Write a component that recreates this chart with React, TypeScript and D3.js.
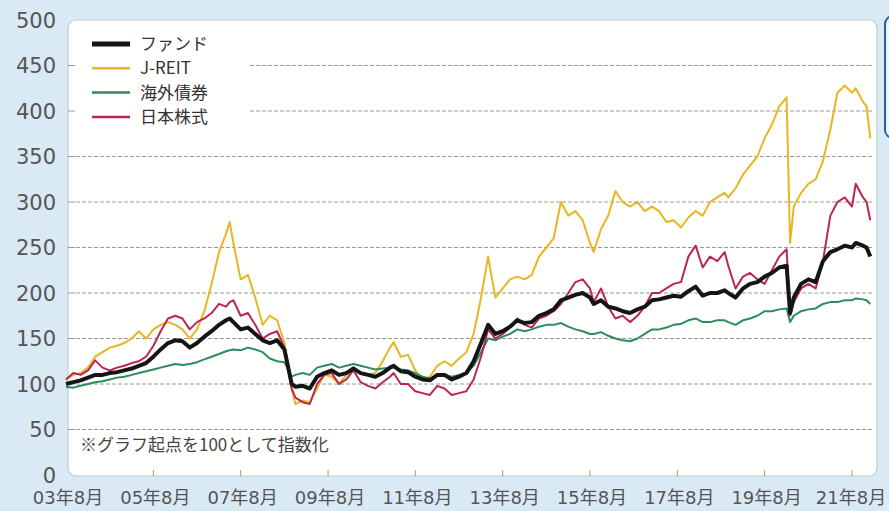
import { useRef, useEffect } from 'react'
import * as d3 from 'd3'

// dates (YYYY-MM) of the sampled points
const dates = [
  '2003-08', '2003-10', '2003-12', '2004-02', '2004-04', '2004-06', '2004-08', '2004-10', '2004-12',
  '2005-02', '2005-04', '2005-06', '2005-08', '2005-10', '2005-12', '2006-02', '2006-04', '2006-06',
  '2006-08', '2006-10', '2006-12', '2007-02', '2007-04', '2007-05', '2007-06', '2007-08', '2007-10',
  '2007-12', '2008-02', '2008-04', '2008-06', '2008-08', '2008-10', '2008-11', '2009-01', '2009-03',
  '2009-05', '2009-07', '2009-09', '2009-11', '2010-01', '2010-03', '2010-05', '2010-07', '2010-09',
  '2010-11', '2011-01', '2011-02', '2011-04', '2011-06', '2011-08', '2011-10', '2011-12', '2012-02',
  '2012-04', '2012-06', '2012-08', '2012-10', '2012-12', '2013-02', '2013-04', '2013-06', '2013-08',
  '2013-10', '2013-12', '2014-02', '2014-04', '2014-06', '2014-08', '2014-10', '2014-12', '2015-02',
  '2015-04', '2015-06', '2015-08', '2015-09', '2015-11', '2016-01', '2016-03', '2016-05', '2016-07',
  '2016-09', '2016-11', '2017-01', '2017-03', '2017-05', '2017-07', '2017-09', '2017-11', '2018-01',
  '2018-03', '2018-05', '2018-07', '2018-09', '2018-10', '2018-12', '2019-02', '2019-04', '2019-06',
  '2019-08', '2019-10', '2019-12', '2020-02', '2020-03', '2020-04', '2020-06', '2020-08', '2020-10',
  '2020-12', '2021-02', '2021-04', '2021-06', '2021-08', '2021-09', '2021-11', '2021-12', '2022-01',
]

const fund = [
  100, 102, 104, 107, 110, 110, 112, 113, 115,
  117, 120, 123, 130, 138, 145, 148, 147, 140,
  145, 152, 158, 165, 170, 172, 168, 160, 162,
  155, 148, 145, 148, 138, 100, 97, 98, 95,
  108, 112, 115, 110, 112, 117, 112, 110, 108,
  112, 118, 120, 114, 113, 108, 105, 104, 110,
  110, 105, 108, 112, 125, 145, 165, 155, 158,
  163, 170, 167, 168, 175, 178, 182, 192, 195,
  198, 200, 195, 188, 192, 185, 183, 180, 178,
  182, 185, 192, 193, 195, 197, 196, 202, 207,
  197, 200, 200, 203, 200, 195, 205, 210, 212,
  218, 222, 228, 230, 178, 195, 210, 215, 212,
  235, 245, 248, 252, 250, 255, 252, 250, 240,
]

const jreit = [
  105, 110, 112, 118, 130, 135, 140, 142, 145,
  150, 158, 150, 160, 165, 168, 165, 160, 150,
  160, 180, 210, 245, 265, 278, 255, 215, 220,
  195, 165, 175, 170, 145, 95, 78, 82, 80,
  95, 110, 108, 100, 110, 118, 112, 110, 112,
  125, 140, 146, 130, 132, 115, 105, 108, 120,
  125, 120, 128, 135, 155, 195, 240, 195, 205,
  215, 218, 215, 220, 240, 250, 260, 300, 285,
  290, 280, 255, 245, 270, 285, 312, 300, 295,
  300, 290, 295, 290, 278, 280, 272, 283, 290,
  285, 300, 305, 310, 305, 315, 330, 340, 350,
  370, 385, 405, 415, 255, 295, 310, 320, 325,
  345, 380, 420, 428, 420, 425, 410, 405, 370,
]

const bond = [
  97, 96, 98, 100, 102, 103, 105, 107, 108,
  110, 112, 114, 116, 118, 120, 122, 121, 122,
  124, 127, 130, 133, 136, 137, 138, 137, 140,
  138, 135, 128, 125, 124, 108, 110, 112, 110,
  118, 120, 122, 118, 120, 122, 120, 118, 116,
  117, 118, 118, 116, 115, 112, 108, 106, 110,
  110, 108, 110, 112, 120, 135, 150, 148, 152,
  155, 160, 158, 160, 163, 165, 165, 167, 163,
  160, 158, 155, 155, 157, 153, 150, 148, 147,
  150, 155, 160, 160, 162, 165, 166, 170, 172,
  168, 168, 170, 170, 168, 165, 170, 172, 175,
  180, 180, 182, 183, 168, 175, 180, 182, 183,
  188, 190, 190, 192, 192, 194, 193, 192, 188,
]

const stock = [
  105, 112, 110, 115, 126, 118, 115, 118, 120,
  123, 125, 130, 142, 158, 172, 175, 172, 160,
  168, 172, 178, 188, 185, 190, 192, 175, 178,
  165, 150, 155, 158, 140, 95, 85, 80, 78,
  100, 110, 112, 100, 105, 115, 102, 98, 95,
  102, 108, 112, 100, 100, 92, 90, 88, 98,
  95, 88, 90, 92, 105, 130, 160, 150, 155,
  162, 172, 165, 162, 172, 175, 180, 188, 200,
  212, 215, 205, 190, 205, 185, 172, 175, 168,
  175, 185, 200, 200, 205, 210, 212, 240, 252,
  228, 240, 235, 245, 230, 205, 218, 222, 215,
  210, 225, 240, 248, 175, 190, 205, 210, 205,
  235, 285, 300, 305, 295, 320, 305, 300, 280,
]

const seriesNames = ['ファンド', 'J-REIT', '海外債券', '日本株式']
const yTicks = [0, 50, 100, 150, 200, 250, 300, 350, 400, 450, 500]
const xTickLabels = ['03年8月', '05年8月', '07年8月', '09年8月', '11年8月', '13年8月', '15年8月', '17年8月', '19年8月', '21年8月']
const note = '※グラフ起点を100として指数化'

const W = 889
const H = 511

export default function App() {
  const svgRef = useRef<SVGSVGElement>(null)

  useEffect(() => {
    document.body.style.margin = '0'
    if (!svgRef.current) return
    const svg = d3.select(svgRef.current)
    svg.selectAll('*').remove()

    const parse = d3.timeParse('%Y-%m')
    const t = dates.map(d => parse(d) as Date)

    const x = d3.scaleTime()
      .domain([new Date(2003, 7, 1), new Date(2021, 7, 1)])
      .range([66, 852])
    const y = d3.scaleLinear().domain([0, 500]).range([475, 20])

    const panel = { left: 68, right: 877, top: 20, bottom: 476 }

    // background
    svg.append('rect').attr('width', W).attr('height', H).attr('fill', '#d9eaf5')

    // partial box at the right edge
    svg.append('rect')
      .attr('x', 885).attr('y', 16).attr('width', 30).attr('height', 122).attr('rx', 8)
      .attr('fill', '#eaf5fb').attr('stroke', '#2c5f8a').attr('stroke-width', 2)

    // white panel
    svg.append('rect')
      .attr('x', panel.left).attr('y', panel.top)
      .attr('width', panel.right - panel.left).attr('height', panel.bottom - panel.top)
      .attr('rx', 8)
      .attr('fill', '#fffffd')
      .attr('stroke', '#b7cddd').attr('stroke-width', 1.2)

    // grid lines (legend blocks the upper-left part)
    const gridVals = yTicks.filter(v => v > 0 && v < 500)
    svg.append('g').selectAll('line')
      .data(gridVals)
      .enter()
      .append('line')
      .attr('x1', d => (d >= 400 ? 250 : 76))
      .attr('x2', panel.right - 4)
      .attr('y1', d => y(d))
      .attr('y2', d => y(d))
      .attr('stroke', '#9a9a9a')
      .attr('stroke-width', 1)
      .attr('stroke-dasharray', '4,2')

    // left tick marks
    svg.append('g').selectAll('line')
      .data(gridVals)
      .enter()
      .append('line')
      .attr('x1', panel.left)
      .attr('x2', panel.left + 7)
      .attr('y1', d => y(d))
      .attr('y2', d => y(d))
      .attr('stroke', '#9a9a9a')
      .attr('stroke-width', 1)

    // bottom tick marks
    const xTickDates = xTickLabels.map((_, i) => new Date(2003 + i * 2, 7, 1))
    svg.append('g').selectAll('line')
      .data(xTickDates.slice(1))
      .enter()
      .append('line')
      .attr('x1', d => x(d))
      .attr('x2', d => x(d))
      .attr('y1', panel.bottom - 6)
      .attr('y2', panel.bottom)
      .attr('stroke', '#999')
      .attr('stroke-width', 1)

    // y labels
    svg.append('g').selectAll('text')
      .data(yTicks)
      .enter()
      .append('text')
      .attr('x', 56)
      .attr('y', d => y(d))
      .attr('dy', '0.36em')
      .attr('text-anchor', 'end')
      .attr('font-family', 'DejaVu Sans, sans-serif')
      .attr('font-size', 21)
      .attr('fill', '#555')
      .text(d => d)

    // x labels
    svg.append('g').selectAll('text')
      .data(xTickDates)
      .enter()
      .append('text')
      .attr('x', (d, i) => Math.min(x(d) + 2, W - 38))
      .attr('y', 504)
      .attr('text-anchor', 'middle')
      .attr('font-family', 'DejaVu Sans, Noto Sans CJK JP, sans-serif')
      .attr('font-size', 18)
      .attr('fill', '#555')
      .text((_, i) => xTickLabels[i])

    // note
    svg.append('text')
      .attr('x', 80)
      .attr('y', 451)
      .attr('font-family', 'Noto Sans CJK JP, sans-serif')
      .attr('font-size', 17)
      .attr('fill', '#444')
      .text(note)

    const line = d3.line<number>()
      .x((_, i) => x(t[i]))
      .y(d => y(d))

    const series = [
      { name: seriesNames[1], values: jreit, color: '#e8b623', width: 2 },
      { name: seriesNames[2], values: bond, color: '#2a8c5f', width: 2 },
      { name: seriesNames[3], values: stock, color: '#bd2459', width: 2 },
      { name: seriesNames[0], values: fund, color: '#151515', width: 4 },
    ]

    svg.append('g').selectAll('path')
      .data(series)
      .enter()
      .append('path')
      .attr('d', d => line(d.values))
      .attr('fill', 'none')
      .attr('stroke', d => d.color)
      .attr('stroke-width', d => d.width)
      .attr('stroke-linejoin', 'round')

    // legend
    const legendItems = [series[3], series[0], series[1], series[2]]
    const lg = svg.append('g')
    legendItems.forEach((s, i) => {
      const ly = 44 + i * 24.3
      lg.append('line')
        .attr('x1', 92).attr('x2', 130)
        .attr('y1', ly).attr('y2', ly)
        .attr('stroke', s.color)
        .attr('stroke-width', s.width === 4 ? 5 : 2.5)
      lg.append('text')
        .attr('x', 140).attr('y', ly)
        .attr('dy', '0.35em')
        .attr('font-family', 'Noto Sans CJK JP, sans-serif')
        .attr('font-size', 17)
        .attr('fill', '#333')
        .text(s.name)
    })
  }, [])

  return <svg ref={svgRef} width={W} height={H} style={{ display: 'block' }} />
}
